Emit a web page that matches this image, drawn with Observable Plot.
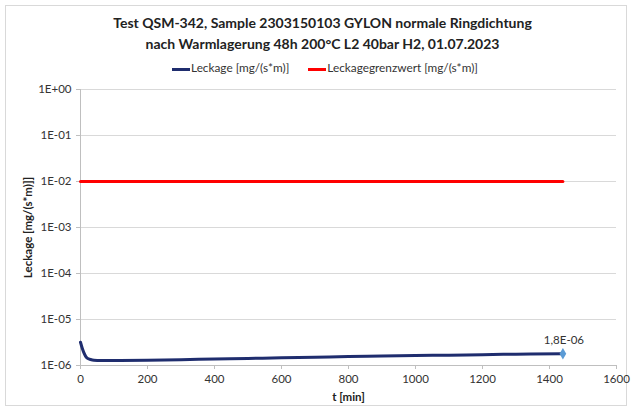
<!DOCTYPE html>
<html><head><meta charset="utf-8">
<script src="https://cdn.jsdelivr.net/npm/d3@7"></script>
<script src="https://cdn.jsdelivr.net/npm/@observablehq/plot@0.6"></script>
<style>
body{margin:0;background:#fff;font-family:Lato,"Open Sans",sans-serif;}
#wrap{position:relative;width:633px;height:412px;overflow:hidden;}
#frame{position:absolute;left:5px;top:5px;width:622px;height:401px;border:1px solid #d9d9d9;box-sizing:border-box;}
#title{position:absolute;left:6px;top:12px;width:633px;text-align:center;font-weight:bold;font-size:14px;line-height:21px;color:#222;}
#legend{position:absolute;left:172px;top:60px;white-space:nowrap;font-size:11.8px;color:#333;}
.sw{display:inline-block;width:18px;height:3px;vertical-align:middle;margin-right:1px;}
#chart{position:absolute;left:0;top:80px;}
</style></head>
<body><div id="wrap"><div id="frame"></div>
<div id="title">Test QSM-342, Sample 2303150103 GYLON normale Ringdichtung<br>nach Warmlagerung 48h 200°C L2 40bar H2, 01.07.2023</div>
<div id="legend"><span class="sw" style="background:#1f2d6e"></span>Leckage [mg/(s*m)]<span style="display:inline-block;width:19px"></span><span class="sw" style="background:#ff0000"></span>Leckagegrenzwert [mg/(s*m)]</div>
<div id="chart"></div></div>
<script>
const tMin = [0, 5, 10, 15, 20, 30, 40, 60, 100, 200, 300, 400, 500, 600, 700, 800, 900, 1000, 1100, 1200, 1300, 1440];
const leckage = [3.2e-6, 2.4e-6, 1.9e-6, 1.6e-6, 1.45e-6, 1.35e-6, 1.3e-6, 1.28e-6, 1.28e-6, 1.3e-6, 1.34e-6, 1.38e-6, 1.42e-6, 1.47e-6, 1.51e-6, 1.56e-6, 1.6e-6, 1.64e-6, 1.68e-6, 1.72e-6, 1.76e-6, 1.8e-6];
const grenzT = [0, 1440];
const grenzwert = [1e-2, 1e-2];
const yTicks = [1, 1e-1, 1e-2, 1e-3, 1e-4, 1e-5, 1e-6];
const xTicks = [0, 200, 400, 600, 800, 1000, 1200, 1400, 1600];
const endLabel = "1,8E-06";

const leak = tMin.map((t, i) => ({t, v: leckage[i]}));
const grenz = grenzT.map((t, i) => ({t, v: grenzwert[i]}));
const last = leak[leak.length - 1];
const fmt = d => { const e = Math.round(Math.log10(d)); return "1E" + (e < 0 ? "-" : "+") + String(Math.abs(e)).padStart(2, "0"); };

const chart = Plot.plot({
  width: 633, height: 332,
  marginLeft: 80, marginRight: 17, marginTop: 9, marginBottom: 47,
  style: {fontFamily: "Lato, 'Open Sans', sans-serif", fontSize: "11.5px", color: "#333", background: "transparent"},
  x: {domain: [0, 1600], ticks: xTicks, tickFormat: d => String(d), tickSize: 4, tickPadding: 5, label: null},
  y: {type: "log", domain: [1e-6, 1], ticks: yTicks, tickFormat: fmt, tickSize: 4, tickPadding: 5, label: null},
  marks: [
    Plot.gridY(yTicks, {stroke: "#d9d9d9", strokeOpacity: 1}),
    Plot.ruleX([0], {stroke: "#bfbfbf"}),
    Plot.ruleY([1e-6], {stroke: "#bfbfbf"}),
    Plot.axisX({ticks: xTicks, tickFormat: d => String(d), tickSize: 4, stroke: "#bfbfbf", tickPadding: 5, fill: "#333", fontSize: 11.5}),
    Plot.axisY({ticks: yTicks, tickFormat: fmt, tickSize: 4, stroke: "#bfbfbf", tickPadding: 5, fill: "#333", fontSize: 11.5}),
    Plot.line(grenz, {x: "t", y: "v", stroke: "#ff0000", strokeWidth: 3}),
    Plot.line(leak, {x: "t", y: "v", stroke: "#1f2d6e", strokeWidth: 3, curve: "monotone-x"}),
    Plot.dot([last], {x: "t", y: "v", symbol: "diamond", r: 3.5, fill: "#5b9bd5", stroke: "none"}),
    Plot.text([last], {x: "t", y: "v", text: () => endLabel, dx: 1, dy: -13, fill: "#333", fontSize: 11.5}),
    Plot.text(["t [min]"], {frameAnchor: "bottom", dy: 35, fontWeight: "bold", fill: "#222", fontSize: 11.5}),
    Plot.text(["Leckage [mg/(s*m)]]"], {frameAnchor: "left", dx: -52, rotate: -90, textAnchor: "middle", fontWeight: "bold", fill: "#222", fontSize: 11.5})
  ]
});
document.getElementById("chart").appendChild(chart);
</script></body></html>
